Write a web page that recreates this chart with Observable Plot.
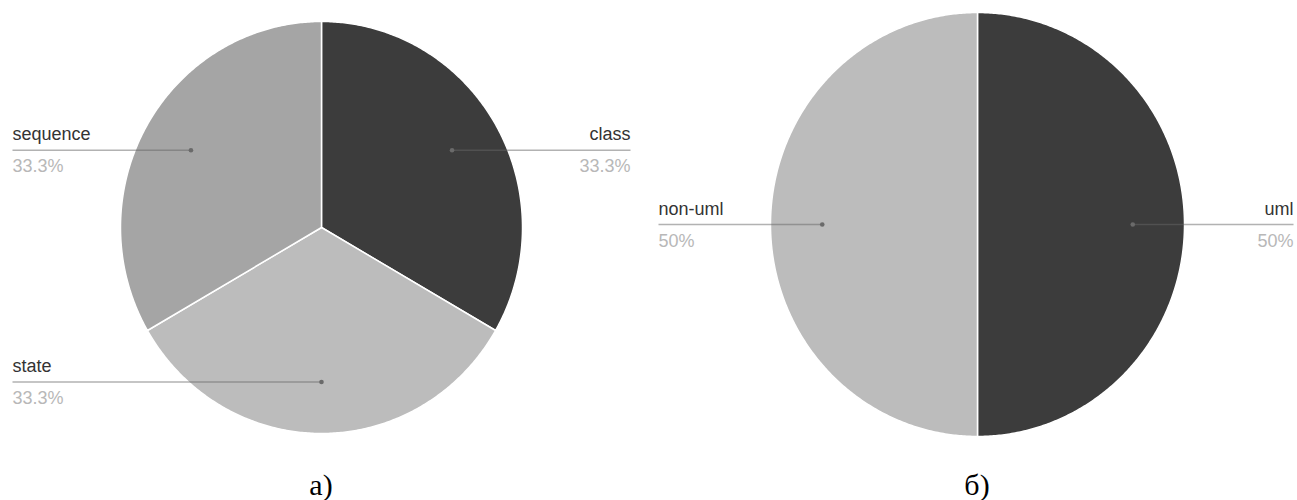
<!DOCTYPE html>
<html><head><meta charset="utf-8">
<script src="https://cdn.jsdelivr.net/npm/d3@7"></script>
<script src="https://cdn.jsdelivr.net/npm/@observablehq/plot@0.6"></script>
<style>
body{margin:0;background:#fff;}
#wrap{position:relative;width:1297px;height:500px;overflow:hidden;}
.cap{position:absolute;top:471px;font-family:"Liberation Serif","Times New Roman",serif;font-size:30px;line-height:28px;transform:translateX(-50%);color:#000;white-space:nowrap;}
</style></head><body>
<div id="wrap"><div id="chart"></div></div>
<script>
// Pie a): diagram types
const diagramTypes = ["class", "state", "sequence"];
const diagramShares = [1, 1, 1];
const diagramColors = ["#3c3c3c", "#bcbcbc", "#a5a5a5"];
// Pie б): uml vs non-uml
const umlKinds = ["uml", "non-uml"];
const umlShares = [1, 1];
const umlColors = ["#3c3c3c", "#bcbcbc"];
// captions under each pie
const captions = ["а)", "б)"];

const pies = [
  {labels: diagramTypes, values: diagramShares, colors: diagramColors,
   cx: 321, cy: 227, rx: 201, ry: 206, left: 12, right: 630},
  {labels: umlKinds, values: umlShares, colors: umlColors,
   cx: 977, cy: 224, rx: 207, ry: 212, left: 658, right: 1293}
];

const fmt = d3.format(".3~p");
const marks = [];
const labelRows = [];
const pt = (p, a, f) => ({x: p.cx + f * p.rx * Math.sin(a), y: p.cy - f * p.ry * Math.cos(a)});

pies.forEach((p, pi) => {
  const total = d3.sum(p.values);
  const arcs = d3.pie().sort(null)(p.values);
  arcs.forEach((a, i) => {
    const pts = [{x: p.cx, y: p.cy}];
    const n = Math.max(2, Math.ceil((a.endAngle - a.startAngle) / (Math.PI / 360)));
    for (let k = 0; k <= n; k++) {
      pts.push(pt(p, a.startAngle + (a.endAngle - a.startAngle) * k / n, 1));
    }
    marks.push(Plot.line(pts, {x: "x", y: "y", curve: "linear-closed",
      fill: p.colors[i], stroke: "#ffffff", strokeWidth: 1.5, strokeLinejoin: "round"}));
    const mid = (a.startAngle + a.endAngle) / 2;
    const c = pt(p, mid, 0.75);
    const onLeft = c.x < p.cx + 0.5;
    labelRows.push({
      dx: c.x, dy: c.y, ex: onLeft ? p.left : p.right,
      anchor: onLeft ? "start" : "end",
      name: p.labels[i], pct: fmt(p.values[i] / total)
    });
  });
});

marks.push(
  Plot.link(labelRows, {x1: "dx", y1: "dy", x2: "ex", y2: "dy",
    stroke: "#666666", strokeOpacity: 0.5, strokeWidth: 1.6}),
  Plot.dot(labelRows, {x: "dx", y: "dy", r: 2.3, fill: "#6a6a6a", stroke: "none"}),
  Plot.text(labelRows.filter(d => d.anchor === "start"), {x: "ex", y: d => d.dy - 10, text: "name",
    textAnchor: "start", lineAnchor: "bottom", fontSize: 18, fill: "#333333"}),
  Plot.text(labelRows.filter(d => d.anchor === "end"), {x: "ex", y: d => d.dy - 10, text: "name",
    textAnchor: "end", lineAnchor: "bottom", fontSize: 18, fill: "#333333"}),
  Plot.text(labelRows.filter(d => d.anchor === "start"), {x: "ex", y: d => d.dy + 22, text: "pct",
    textAnchor: "start", lineAnchor: "bottom", fontSize: 18, fill: "#b8b8b8"}),
  Plot.text(labelRows.filter(d => d.anchor === "end"), {x: "ex", y: d => d.dy + 22, text: "pct",
    textAnchor: "end", lineAnchor: "bottom", fontSize: 18, fill: "#b8b8b8"})
);

const chart = Plot.plot({
  width: 1297, height: 450, margin: 0,
  x: {type: "identity", axis: null},
  y: {type: "identity", axis: null},
  style: {fontFamily: "'Liberation Sans', Arial, sans-serif", background: "#ffffff", overflow: "visible"},
  marks
});
const wrap = document.getElementById("wrap");
document.getElementById("chart").appendChild(chart);
captions.forEach((t, i) => {
  const d = document.createElement("div");
  d.className = "cap";
  d.style.left = pies[i].cx + "px";
  d.textContent = t;
  wrap.appendChild(d);
});
</script>
</body></html>
